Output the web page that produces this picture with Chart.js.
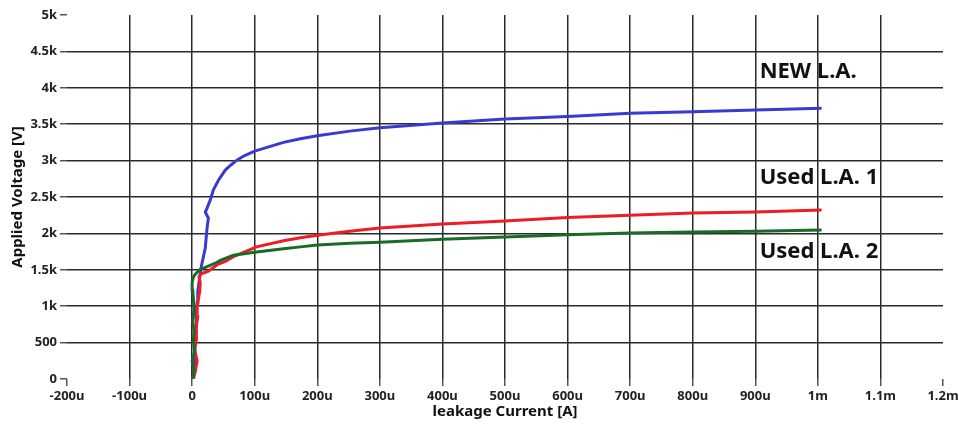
<!DOCTYPE html>
<html>
<head>
<meta charset="utf-8">
<script src="https://cdn.jsdelivr.net/npm/chart.js@4/dist/chart.umd.min.js"></script>
<style>
  html, body { margin: 0; padding: 0; background: #fff; }
  #wrap { width: 959px; height: 428px; }
</style>
</head>
<body>
<div id="wrap"><canvas id="leakChart"></canvas></div>
<script>
// leakage current in uA, applied voltage in V
const newCurrent = [1, 3, 5, 4, 6, 7, 6, 8, 9, 11, 13, 15, 18, 21, 24, 26, 21, 24, 29, 34, 42, 53, 62, 72, 84, 100, 146, 173, 200, 252, 300, 400, 500, 600, 700, 800, 900, 1006];
const newVoltage = [0, 150, 300, 450, 600, 750, 900, 1050, 1200, 1330, 1455, 1560, 1680, 1800, 2090, 2210, 2290, 2350, 2460, 2600, 2730, 2870, 2940, 3010, 3070, 3130, 3250, 3300, 3340, 3405, 3450, 3515, 3570, 3605, 3650, 3670, 3695, 3720];

const used1Current = [2, 5, 8, 4, 7, 6, 9, 8, 10, 12, 13, 11, 14, 19, 26, 40, 53, 66, 103, 146, 173, 200, 252, 300, 400, 500, 600, 700, 800, 900, 1006];
const used1Voltage = [0, 100, 250, 400, 550, 700, 850, 1000, 1100, 1200, 1320, 1400, 1440, 1460, 1480, 1570, 1615, 1680, 1815, 1900, 1940, 1975, 2030, 2075, 2130, 2170, 2220, 2250, 2280, 2295, 2320];

const used2Current = [1, 3, 0, 4, 2, 3, 1, 3, 2, 1, 0, 2, 5, 12, 24, 37, 45, 66, 103, 146, 173, 200, 252, 300, 400, 500, 600, 700, 800, 900, 1006];
const used2Voltage = [0, 120, 250, 380, 520, 660, 800, 950, 1100, 1220, 1330, 1400, 1440, 1500, 1545, 1590, 1630, 1700, 1745, 1790, 1815, 1840, 1865, 1880, 1920, 1950, 1980, 2005, 2020, 2030, 2045];

const xTickLabels = ['-200u', '-100u', '0', '100u', '200u', '300u', '400u', '500u', '600u', '700u', '800u', '900u', '1m', '1.1m', '1.2m'];
const yTickLabels = ['0', '500', '1k', '1.5k', '2k', '2.5k', '3k', '3.5k', '4k', '4.5k', '5k'];

const curveNames = ['NEW L.A.', 'Used L.A. 1', 'Used L.A. 2'];
// where each curve name sits (data units)
const nameAtCurrent = [907, 907, 907];
const nameAtVoltage = [4217, 2760, 1745];

function toPoints(xs, ys) {
    return xs.map((x, i) => ({ x: x, y: ys[i] }));
}

const tickFont = { family: 'Noto Sans', size: 13, weight: 'bold' };
const gridColor = '#2a2a2a';

const curveLabels = {
    id: 'curveLabels',
    afterDatasetsDraw(chart) {
        const { ctx, scales } = chart;
        ctx.save();
        ctx.font = 'bold 22px "Noto Sans"';
        ctx.fillStyle = '#111';
        ctx.textBaseline = 'middle';
        ctx.textAlign = 'left';
        curveNames.forEach((name, i) => {
            ctx.fillText(name, scales.x.getPixelForValue(nameAtCurrent[i]), scales.y.getPixelForValue(nameAtVoltage[i]));
        });
        ctx.restore();
    }
};

new Chart(document.getElementById('leakChart'), {
    type: 'scatter',
    data: {
        datasets: [
            { label: curveNames[2], data: toPoints(used2Current, used2Voltage), borderColor: '#1a6a2a', order: 0 },
            { label: curveNames[1], data: toPoints(used1Current, used1Voltage), borderColor: '#ee1c24', order: 1 },
            { label: curveNames[0], data: toPoints(newCurrent, newVoltage), borderColor: '#3a3ad2', order: 2 }
        ].map(d => Object.assign(d, { showLine: true, pointRadius: 0, borderWidth: 3, tension: 0 }))
    },
    options: {
        responsive: true,
        maintainAspectRatio: false,
        animation: false,
        layout: { padding: { top: 15, right: 16, left: 0, bottom: 0 } },
        plugins: { legend: { display: false }, tooltip: { enabled: false } },
        scales: {
            x: {
                type: 'linear',
                min: -200,
                max: 1200,
                afterFit: s => { s.height = 49; s.paddingLeft = 0; s.paddingRight = 0; },
                border: { display: false },
                grid: {
                    color: c => (c.tick && (c.tick.value === -200 || c.tick.value === 1200)) ? 'rgba(0,0,0,0)' : gridColor,
                    tickColor: '#555',
                    lineWidth: 1.5,
                    tickLength: 7
                },
                ticks: {
                    stepSize: 100,
                    padding: 2,
                    color: '#222',
                    font: tickFont,
                    maxRotation: 0,
                    autoSkip: false,
                    callback: (v, i) => xTickLabels[i]
                },
                title: {
                    display: true,
                    text: 'leakage Current [A]',
                    color: '#111',
                    font: { family: 'Noto Sans', size: 15, weight: 'bold' },
                    padding: { top: 0, bottom: 7 }
                }
            },
            y: {
                min: 0,
                max: 5000,
                afterFit: s => { s.width = 67; s.paddingTop = 0; s.paddingBottom = 0; },
                border: { display: false },
                grid: {
                    color: c => (c.tick && (c.tick.value === 0 || c.tick.value === 5000)) ? 'rgba(0,0,0,0)' : gridColor,
                    tickColor: '#555',
                    lineWidth: 1.5,
                    tickLength: 7
                },
                ticks: {
                    stepSize: 500,
                    padding: 3,
                    color: '#222',
                    font: tickFont,
                    autoSkip: false,
                    callback: (v, i) => yTickLabels[i]
                },
                title: {
                    display: true,
                    text: 'Applied Voltage [V]',
                    color: '#111',
                    font: { family: 'Noto Sans', size: 15, weight: 'bold' },
                    padding: { top: 9, bottom: 0 }
                }
            }
        }
    },
    plugins: [curveLabels]
});
</script>
</body>
</html>
